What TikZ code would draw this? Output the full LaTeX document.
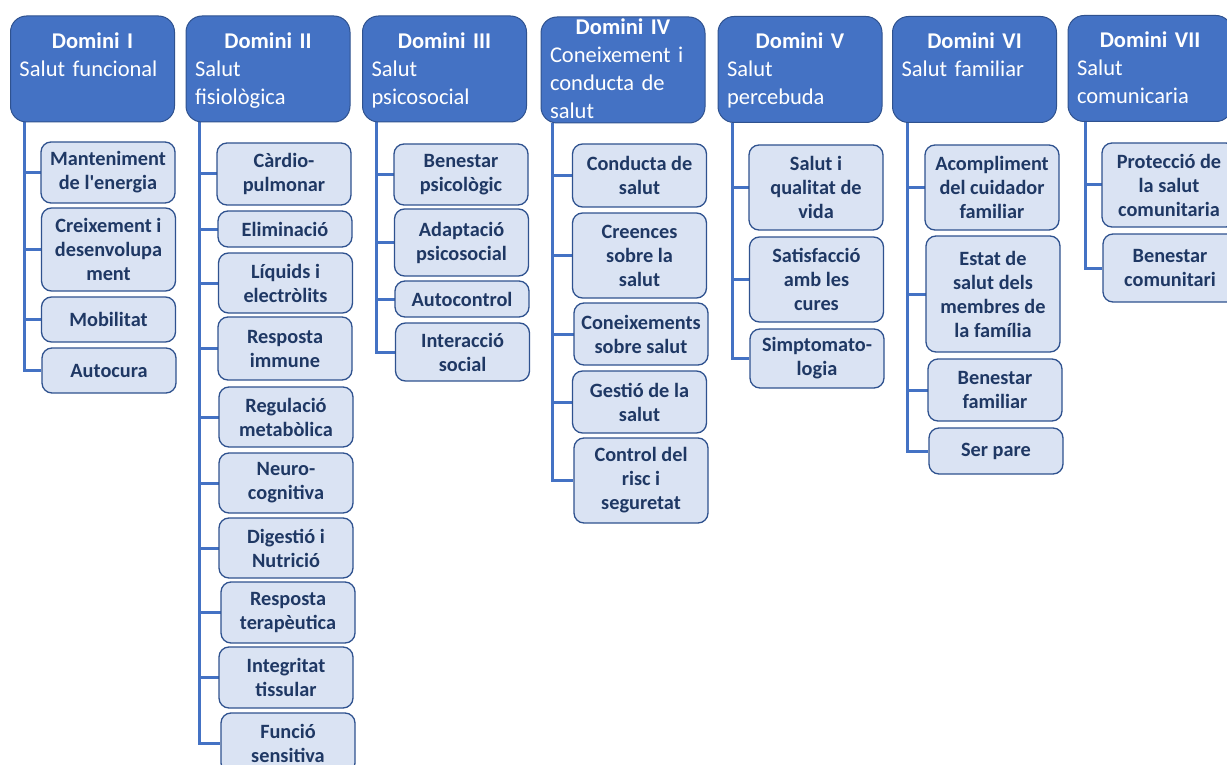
\documentclass[tikz,border=0pt]{standalone}
\usepackage{fontspec}
\setmainfont{Carlito}
\usetikzlibrary{calc,backgrounds}
\definecolor{hdrblue}{HTML}{4472C4}
\definecolor{edgeblue}{HTML}{2F528F}
\definecolor{kidfill}{HTML}{DAE3F3}
\definecolor{kidtext}{HTML}{1F3864}
\definecolor{linkblue}{HTML}{4472C4}
\begin{document}
\begin{tikzpicture}[x=1pt,y=-1pt,
  hdr/.style={draw=edgeblue, fill=hdrblue, line width=1pt, rounded corners=16pt,
    minimum width=164pt, minimum height=106pt, inner sep=0pt},
  hdrtxt/.style={text=white, text width=146pt, align=left, inner sep=0pt,
    anchor=base, font=\fontsize{22.5}{28}\selectfont},
  kid/.style={draw=edgeblue, fill=kidfill, line width=1.3pt, rounded corners=10pt,
    inner sep=0pt, minimum width=134pt, align=center, text=kidtext,
    font=\bfseries\fontsize{20.3}{24}\selectfont},
  link/.style={draw=linkblue, line width=3pt},
  tick/.style={draw=linkblue, line width=3pt, line cap=rect}]
\useasboundingbox (0,0) rectangle (1227,765);
\clip (0,0) rectangle (1227,765);

% domain headers
\node[hdr] (h1) at (92.5,69) {};
\node[hdr] (h2) at (268,69) {};
\node[hdr] (h3) at (444.5,69) {};
\node[hdr] (h4) at (623,70) {};
\node[hdr] (h5) at (800,69.5) {};
\node[hdr] (h6) at (974.5,69.5) {};
\node[hdr] (h7) at (1150,68.5) {};

\node[hdrtxt] (t1) at ($(h1.north)+(0,33)$) {\makebox[\linewidth]{\bfseries Domini I}\\Salut funcional};
\node[hdrtxt] (t2) at ($(h2.north)+(0,33)$) {\makebox[\linewidth]{\bfseries Domini II}\\Salut\\fisiològica};
\node[hdrtxt] (t3) at ($(h3.north)+(0,33)$) {\makebox[\linewidth]{\bfseries Domini III}\\Salut\\psicosocial};
\node[hdrtxt] (t4) at ($(h4.north)+(0,18)$) {\makebox[\linewidth]{\bfseries Domini IV}\\Coneixement i\\conducta de\\salut};
\node[hdrtxt] (t5) at ($(h5.north)+(0,33)$) {\makebox[\linewidth]{\bfseries Domini V}\\Salut\\percebuda};
\node[hdrtxt] (t6) at ($(h6.north)+(0,33)$) {\makebox[\linewidth]{\bfseries Domini VI}\\Salut familiar};
\node[hdrtxt] (t7) at ($(h7.north)+(0,33)$) {\makebox[\linewidth]{\bfseries Domini VII}\\Salut\\comunicaria};

% Domini I
\node[kid, minimum height=61pt] (c1a) at (108,172.5) {Manteniment\\de l\textquotesingle energia};
\node[kid, minimum height=83pt] (c1b) at (108.5,249.5) {Creixement i\\desenvolupa\\ment};
\node[kid, minimum height=45pt] (c1c) at (108.5,319.5) {Mobilitat};
\node[kid, minimum height=45pt] (c1d) at (109,370.5) {Autocura};

% Domini II
\node[kid, minimum height=62pt] (c2a) at (284,174) {Càrdio-\\pulmonar};
\node[kid, minimum height=36pt] (c2b) at (285,229) {Eliminació};
\node[kid, minimum height=60pt] (c2c) at (285.5,283) {Líquids i\\electròlits};
\node[kid, minimum height=63pt] (c2d) at (285,348.5) {Resposta\\immune};
\node[kid, minimum height=60pt] (c2e) at (286,417) {Regulació\\metabòlica};
\node[kid, minimum height=60pt] (c2f) at (286,483) {Neuro-\\cognitiva};
\node[kid, minimum height=60pt] (c2g) at (286,548) {Digestió i\\Nutrició};
\node[kid, minimum height=61pt] (c2h) at (288,612.5) {Resposta\\terapèutica};
\node[kid, minimum height=61pt] (c2i) at (286,677.5) {Integritat\\tissular};
\node[kid, minimum height=60pt] (c2j) at (288,743) {Funció\\sensitiva};

% Domini III
\node[kid, minimum height=61pt] (c3a) at (461,174.5) {Benestar\\psicològic};
\node[kid, minimum height=67pt] (c3b) at (461.5,242.5) {Adaptació\\psicosocial};
\node[kid, minimum height=36pt] (c3c) at (462,299) {Autocontrol};
\node[kid, minimum height=58pt] (c3d) at (462.5,352) {Interacció\\social};

% Domini IV
\node[kid, minimum height=63pt] (c4a) at (639.5,175.5) {Conducta de\\salut};
\node[kid, minimum height=85pt] (c4b) at (639.5,255.5) {Creences\\sobre la\\salut};
\node[kid, minimum height=62pt] (c4c) at (641,334) {Coneixements\\sobre salut};
\node[kid, minimum height=62pt] (c4d) at (639.5,402) {Gestió de la\\salut};
\node[kid, minimum height=85pt] (c4e) at (641,480.5) {Control del\\risc i\\seguretat};

% Domini V
\node[kid, minimum height=85pt] (c5a) at (816,187.5) {Salut i\\qualitat de\\vida};
\node[kid, minimum height=85pt] (c5b) at (816.5,279.5) {Satisfacció\\amb les\\cures};
\node[kid, minimum height=59pt] (c5c) at (817,358.5) {Simptomato-\\logia};

% Domini VI
\node[kid, minimum height=85pt] (c6a) at (992,187.5) {Acompliment\\del cuidador\\familiar};
\node[kid, minimum height=116pt] (c6b) at (993,294) {Estat de\\salut dels\\membres de\\la família};
\node[kid, minimum height=62pt] (c6c) at (995,390) {Benestar\\familiar};
\node[kid, minimum height=46pt] (c6d) at (996,451) {Ser pare};

% Domini VII
\node[kid, minimum height=84pt] (c7a) at (1169,185) {Protecció de\\la salut\\comunitaria};
\node[kid, minimum height=68pt] (c7b) at (1170,268) {Benestar\\comunitari};

% connectors behind the boxes
\begin{scope}[on background layer]
  \coordinate (s1) at ($(h1.south west)+(14,0)$);
  \coordinate (s2) at ($(h2.south west)+(14,0)$);
  \coordinate (s3) at ($(h3.south west)+(14,0)$);
  \coordinate (s4) at ($(h4.south west)+(12,0)$);
  \coordinate (s5) at ($(h5.south west)+(15,0)$);
  \coordinate (s6) at ($(h6.south west)+(15,0)$);
  \coordinate (s7) at ($(h7.south west)+(18,0)$);

  \draw[link] (s1) |- (c1d.west);
  \foreach \c in {c1a,c1b,c1c} \draw[tick] (s1 |- \c.west) -- (\c.west);

  \draw[link] (s2) |- (c2j.west);
  \foreach \c in {c2a,c2b,c2c,c2d,c2e,c2f,c2g,c2h,c2i} \draw[tick] (s2 |- \c.west) -- (\c.west);

  \draw[link] (s3) |- (c3d.west);
  \foreach \c in {c3a,c3b,c3c} \draw[tick] (s3 |- \c.west) -- (\c.west);

  \draw[link] (s4) |- (c4e.west);
  \foreach \c in {c4a,c4b,c4c,c4d} \draw[tick] (s4 |- \c.west) -- (\c.west);

  \draw[link] (s5) |- (c5c.west);
  \foreach \c in {c5a,c5b} \draw[tick] (s5 |- \c.west) -- (\c.west);

  \draw[link] (s6) |- (c6d.west);
  \foreach \c in {c6a,c6b,c6c} \draw[tick] (s6 |- \c.west) -- (\c.west);

  \draw[link] (s7) |- (c7b.west);
  \foreach \c in {c7a} \draw[tick] (s7 |- \c.west) -- (\c.west);
\end{scope}
\end{tikzpicture}
\end{document}
